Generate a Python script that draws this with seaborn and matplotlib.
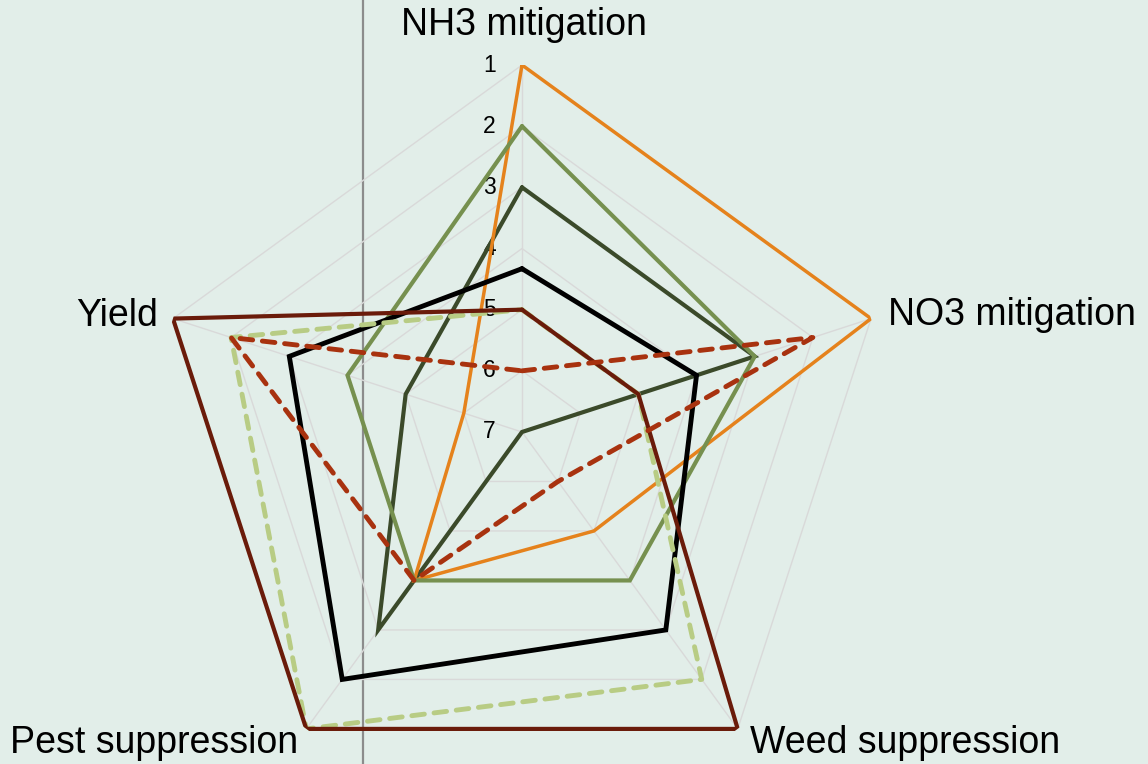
import numpy as np
import pandas as pd
import matplotlib
matplotlib.use("Agg")
import matplotlib.pyplot as plt
import seaborn as sns
from matplotlib.lines import Line2D

# ---- data ----
categories = ["NH3 mitigation", "NO3 mitigation", "Weed suppression", "Pest suppression", "Yield"]
tick_labels = ["1", "2", "3", "4", "5", "6", "7"]
s_darkgreen = [3, 3, 7, 3, 5]
s_orange = [1, 1, 5, 4, 6]
s_green = [2, 3, 4, 4, 4]
s_black = [4.33, 4, 3, 2, 3]
s_lightdash = [5, 5, 2, 1, 2]
s_brown = [5, 5, 1, 1, 1]
s_reddash = [6, 2, 6, 4, 2]

BG = "#E2EEE9"
sns.set_theme(style="white", rc={"axes.facecolor": BG, "figure.facecolor": BG,
                                 "text.color": "#000000"})
plt.rcParams["font.family"] = ["Liberation Sans", "DejaVu Sans"]
plt.rcParams["text.color"] = "#000000"

W, H = 1148, 764
fig = plt.figure(figsize=(W / 100, H / 100), dpi=100)
cx, cy, R = 522, 432, 367
ax = fig.add_axes([(cx - R) / W, (H - cy - R) / H, 2 * R / W, 2 * R / H], projection="polar")
ax.set_theta_offset(np.pi / 2)
ax.set_theta_direction(-1)
ax.set_ylim(0, 6)
ax.axis("off")

n = len(categories)
theta = np.linspace(0, 2 * np.pi, n, endpoint=False)
theta_c = np.append(theta, theta[0])

# grid pentagons and spokes
for lvl in range(1, 7):
    ax.plot(theta_c, [lvl] * (n + 1), color="#D9D9D9", lw=1.0, zorder=1)
for t in theta:
    ax.plot([t, t], [0, 6], color="#D9D9D9", lw=1.0, zorder=1)

# tick labels along the NH3 axis (reversed scale: 1 outer, 7 centre)
for lab in tick_labels:
    r = 7 - int(lab)
    ax.annotate(lab, xy=(0, r), xytext=(-26, 0), textcoords="offset pixels",
                ha="right", va="center", fontsize=16.5, color="#000000", zorder=2)

series = [
    (s_darkgreen, "#3B4A2A", 3.0, "-"),
    (s_orange, "#E5821C", 2.5, "-"),
    (s_green, "#76904F", 3.0, "-"),
    (s_black, "#000000", 3.5, "-"),
    (s_lightdash, "#B8CC84", 3.5, (0, (2.6, 2.0))),
    (s_brown, "#6A1B0A", 3.0, "-"),
    (s_reddash, "#A8320F", 3.5, (0, (2.6, 2.0))),
]
for k, (vals, col, lw, ls) in enumerate(series):
    rr = [7 - v for v in vals]
    df = pd.DataFrame({"theta": theta_c, "r": rr + [rr[0]]})
    sns.lineplot(data=df, x="theta", y="r", ax=ax, sort=False, estimator=None,
                 color=col, lw=lw, linestyle=ls, zorder=3 + k,
                 dash_capstyle="round", solid_joinstyle="miter")
ax.set_xlabel("")
ax.set_ylabel("")
ax.set_ylim(0, 6)

# category labels
fs = 27
kw = dict(fontsize=fs, color="#000000", va="center")
fig.text(524 / W, 1 - 25 / H, categories[0], ha="center", **kw)
fig.text(888 / W, 1 - 315 / H, categories[1], ha="left", **kw)
fig.text(750 / W, 1 - 743 / H, categories[2], ha="left", **kw)
fig.text(298 / W, 1 - 743 / H, categories[3], ha="right", **kw)
fig.text(158 / W, 1 - 316 / H, categories[4], ha="right", **kw)

# stray vertical gray line
fig.add_artist(Line2D([363 / W, 363 / W], [0, 1], transform=fig.transFigure,
                      color="#8C8C8C", lw=1.6, zorder=0))

fig.savefig("out.png", dpi=100, facecolor=BG)
